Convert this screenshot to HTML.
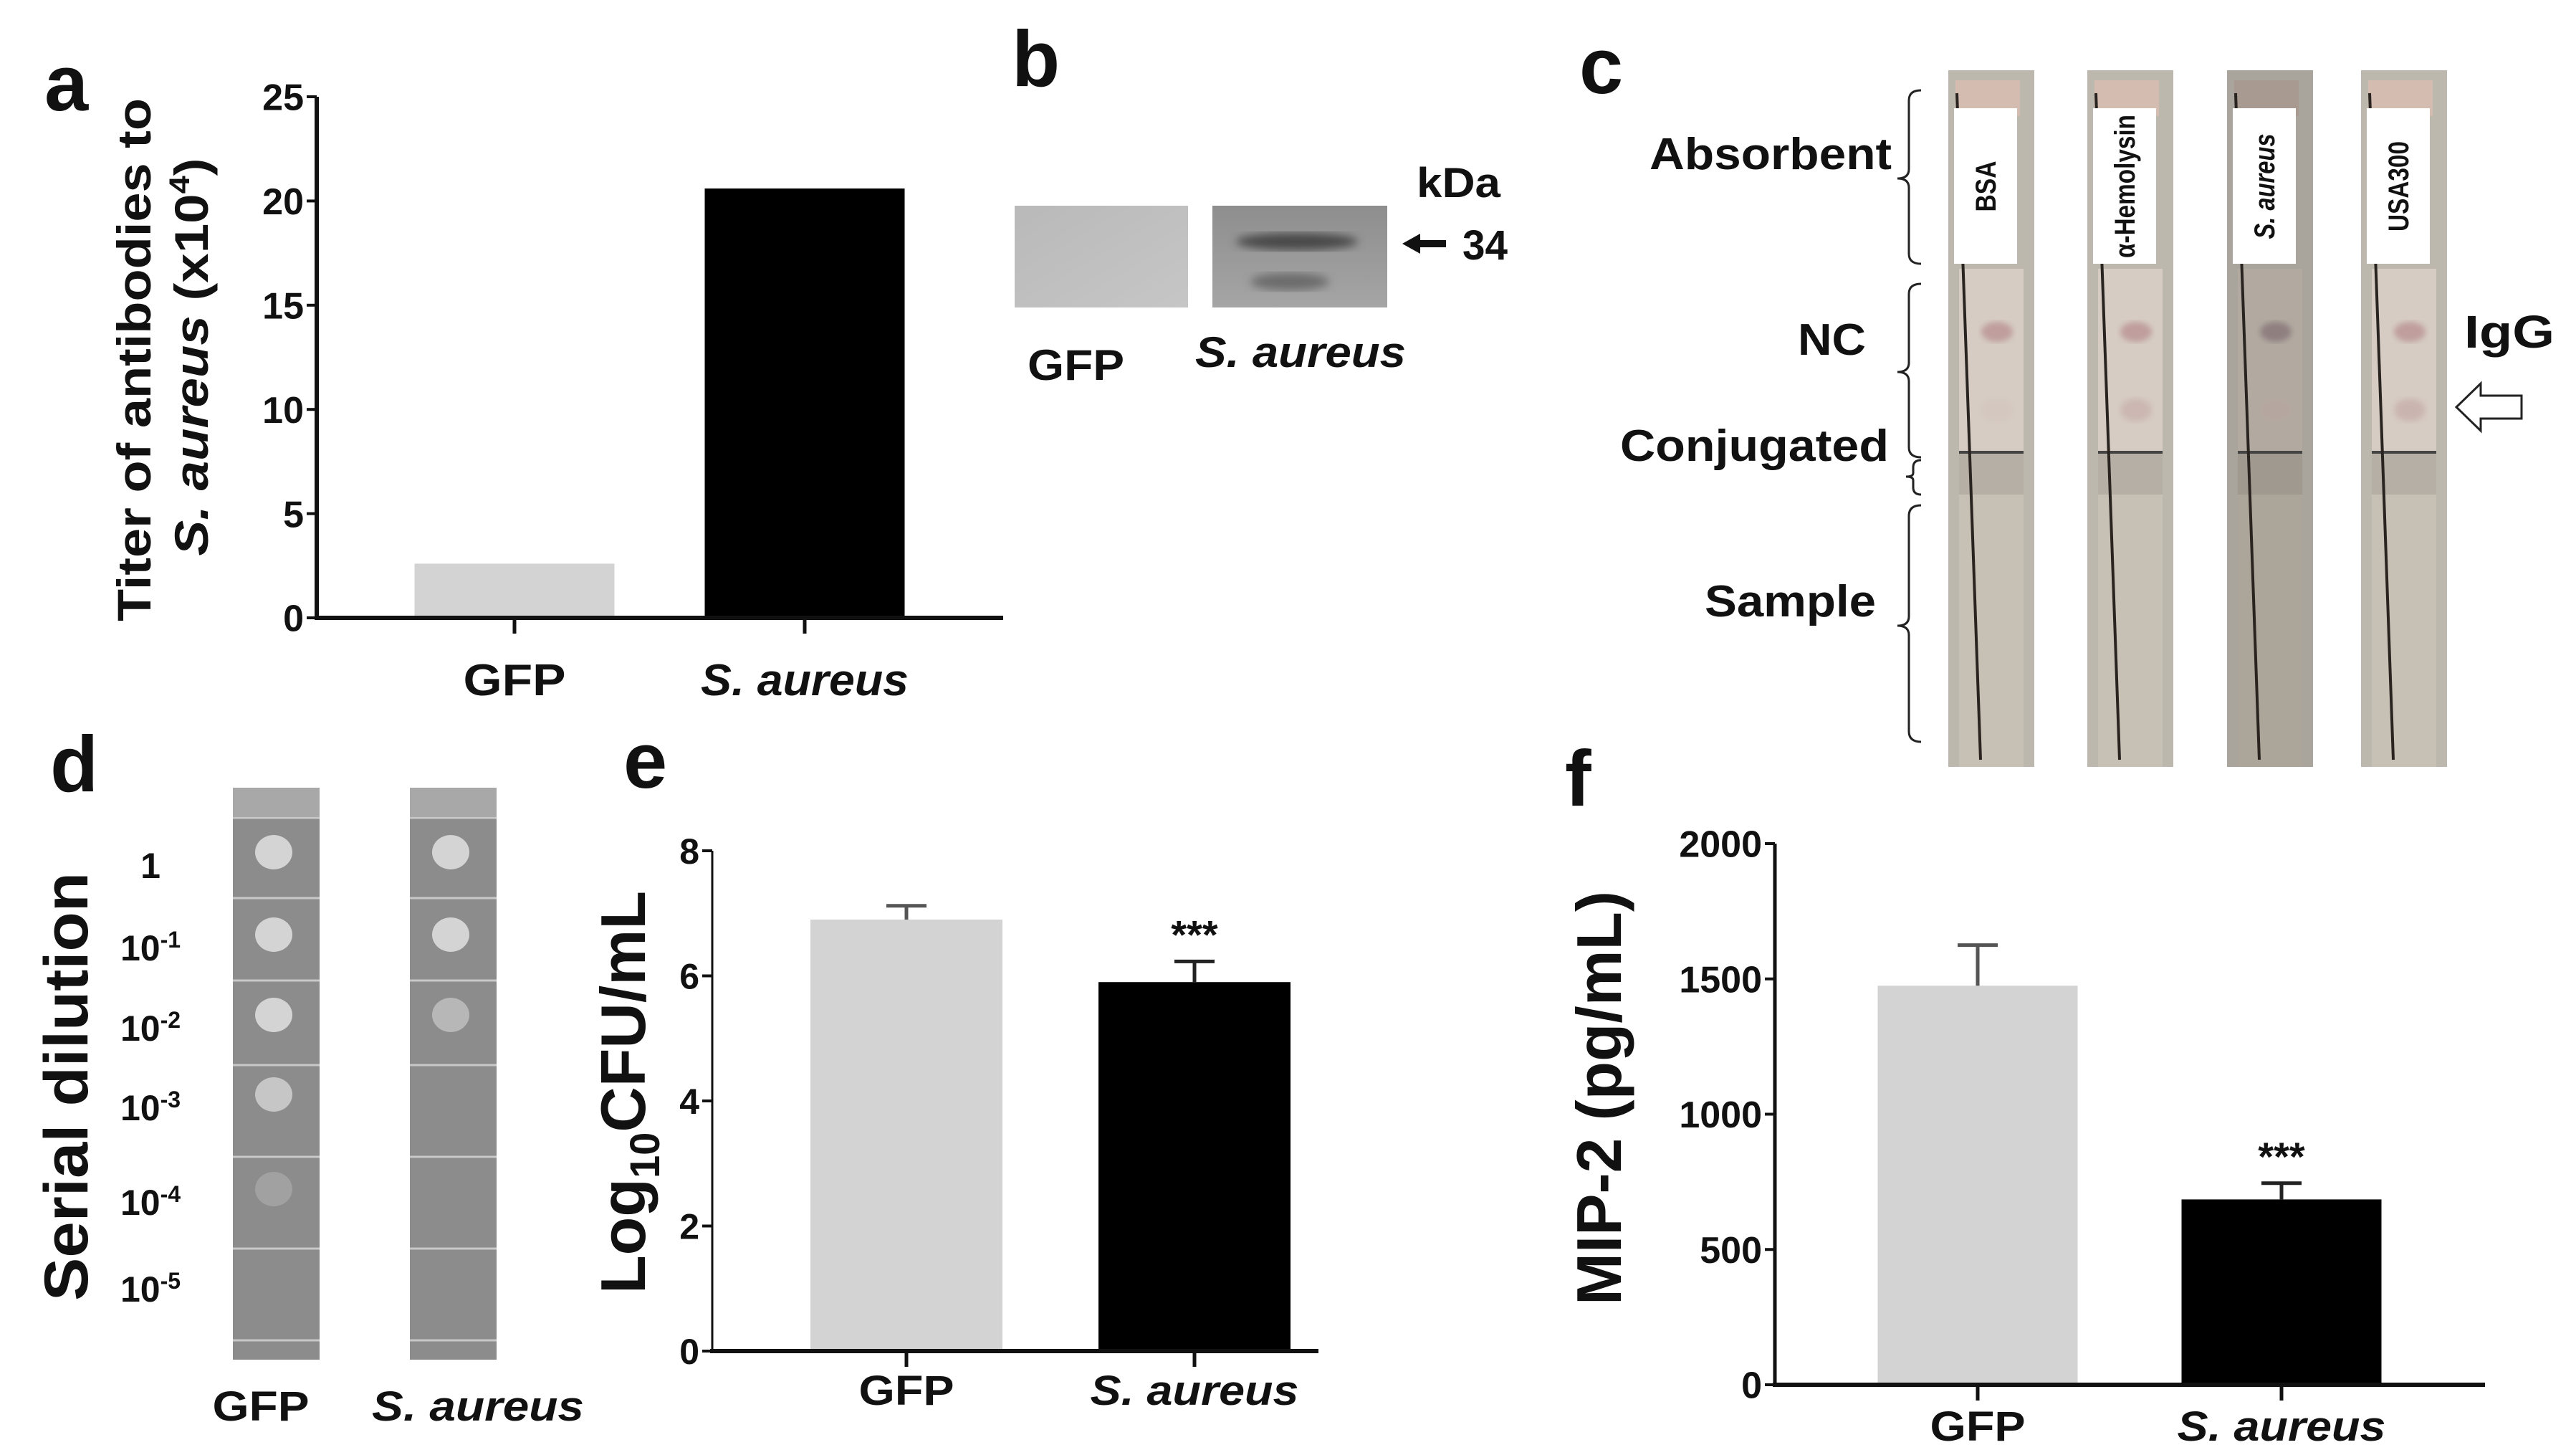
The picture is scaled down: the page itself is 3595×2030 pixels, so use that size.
<!DOCTYPE html>
<html><head><meta charset="utf-8">
<style>
html,body{margin:0;padding:0;background:#fff;}
svg{display:block;}
text{font-family:"Liberation Sans Narrow","Liberation Sans",sans-serif;font-weight:bold;fill:#111;}
</style></head>
<body>
<svg id="fig" width="3595" height="2030" viewBox="0 0 3595 2030" xmlns="http://www.w3.org/2000/svg">
<!-- Panel labels -->
<text x="62" y="154" font-size="110" style="font-family:'Liberation Sans',sans-serif">a</text>
<text x="1412" y="120" font-size="110" style="font-family:'Liberation Sans',sans-serif">b</text>
<text x="2204" y="130" font-size="110" style="font-family:'Liberation Sans',sans-serif">c</text>
<text x="70" y="1104" font-size="110" style="font-family:'Liberation Sans',sans-serif">d</text>
<text x="870" y="1099" font-size="110" style="font-family:'Liberation Sans',sans-serif">e</text>
<text x="2184" y="1124" font-size="110" style="font-family:'Liberation Sans',sans-serif">f</text>

<!-- Panel a axis titles -->
<g>
<text transform="translate(210,502) rotate(-90)" text-anchor="middle" font-size="66" textLength="730" lengthAdjust="spacingAndGlyphs" style="font-family:'Liberation Sans',sans-serif">Titer of antibodies to</text>
<text transform="translate(290,498) rotate(-90)" text-anchor="middle" font-size="66" textLength="555" lengthAdjust="spacingAndGlyphs" style="font-family:'Liberation Sans',sans-serif"><tspan font-style="italic">S. aureus</tspan> (x10<tspan font-size="40" dy="-26">4</tspan><tspan dy="26">)</tspan></text>
</g>

<!-- Panel b western blot -->
<g>
<defs>
<linearGradient id="blotA" x1="0" y1="0" x2="1" y2="1"><stop offset="0" stop-color="#b9b9b9"/><stop offset="1" stop-color="#c6c6c6"/></linearGradient>
<linearGradient id="blotB" x1="0" y1="0" x2="0" y2="1"><stop offset="0" stop-color="#8e8e8e"/><stop offset="1" stop-color="#a5a5a5"/></linearGradient>
<filter id="blur6"><feGaussianBlur stdDeviation="6"/></filter>
<filter id="blur3"><feGaussianBlur stdDeviation="4"/></filter>
</defs>
<rect x="1416" y="287" width="242" height="142" fill="url(#blotA)"/>
<rect x="1692" y="287" width="244" height="142" fill="url(#blotB)"/>
<ellipse cx="1810" cy="337" rx="85" ry="12" fill="#4a4a4a" filter="url(#blur6)"/>
<ellipse cx="1800" cy="393" rx="55" ry="12" fill="#6c6c6c" filter="url(#blur6)"/>
<text x="1977" y="275" font-size="58" textLength="117" lengthAdjust="spacingAndGlyphs">kDa</text>
<path d="M1957 340 L1982 326 L1982 335 L2018 335 L2018 345 L1982 345 L1982 354 Z" fill="#111"/>
<text x="2041" y="362" font-size="58" textLength="63" lengthAdjust="spacingAndGlyphs">34</text>
<text x="1434" y="530" font-size="60" textLength="135" lengthAdjust="spacingAndGlyphs">GFP</text>
<text x="1668" y="512" font-size="60" font-style="italic" textLength="294" lengthAdjust="spacingAndGlyphs">S. aureus</text>
</g>

<!-- Panel c lateral flow strips -->
<g id="panelC">
<text x="2640" y="236" text-anchor="end" font-size="62" textLength="338" lengthAdjust="spacingAndGlyphs">Absorbent</text>
<text x="2604" y="495" text-anchor="end" font-size="62" textLength="95" lengthAdjust="spacingAndGlyphs">NC</text>
<text x="2636" y="643" text-anchor="end" font-size="62" textLength="375" lengthAdjust="spacingAndGlyphs">Conjugated</text>
<text x="2618" y="860" text-anchor="end" font-size="62" textLength="239" lengthAdjust="spacingAndGlyphs">Sample</text>
<g fill="none" stroke="#222" stroke-width="3">
<path d="M2681 126 Q2664 126 2664 140 L2664 236 Q2664 249 2648 249 Q2664 249 2664 262 L2664 354 Q2664 368 2681 368"/>
<path d="M2681 396 Q2664 396 2664 410 L2664 506 Q2664 519 2648 519 Q2664 519 2664 532 L2664 624 Q2664 638 2681 638"/>
<path d="M2681 642 Q2670 642 2670 652 L2670 660 Q2670 665 2660 665 Q2670 665 2670 670 L2670 680 Q2670 690 2681 690"/>
<path d="M2681 705 Q2664 705 2664 720 L2664 860 Q2664 873 2648 873 Q2664 873 2664 886 L2664 1020 Q2664 1035 2681 1035"/>
</g>
<text x="3439" y="485" font-size="64" textLength="126" lengthAdjust="spacingAndGlyphs">IgG</text>
<path d="M3428 568 L3462 535 L3462 552 L3519 552 L3519 584 L3462 584 L3462 601 Z" fill="#fff" stroke="#222" stroke-width="3"/>
</g>

<!-- Panel d serial dilution -->
<g id="panelD">
<text transform="translate(122,1516) rotate(-90)" text-anchor="middle" font-size="86" textLength="598" lengthAdjust="spacingAndGlyphs" style="font-family:'Liberation Sans',sans-serif">Serial dilution</text>
<text x="364" y="1982" text-anchor="middle" font-size="58" textLength="135" lengthAdjust="spacingAndGlyphs">GFP</text>
<text x="667" y="1982" text-anchor="middle" font-size="58" font-style="italic" textLength="296" lengthAdjust="spacingAndGlyphs">S. aureus</text>
</g>

<!-- Panel e and f titles -->
<text transform="translate(900,1524) rotate(-90)" text-anchor="middle" font-size="88" textLength="562" lengthAdjust="spacingAndGlyphs" style="font-family:'Liberation Sans',sans-serif">Log<tspan font-size="58" dy="20">10</tspan><tspan dy="-20">CFU/mL</tspan></text>
<text transform="translate(2262,1532) rotate(-90)" text-anchor="middle" font-size="88" textLength="578" lengthAdjust="spacingAndGlyphs" style="font-family:'Liberation Sans',sans-serif">MIP-2 (pg/mL)</text>

<g id="charts"></g>
</svg>
<script>
// ===== Panel a data =====
const aCategories = ["GFP", "S. aureus"];
const aValues = [2.6, 20.6];
const aTicks = [0, 5, 10, 15, 20, 25];
// ===== Panel e data =====
const eCategories = ["GFP", "S. aureus"];
const eValues = [6.9, 5.9];
const eErrors = [0.22, 0.33];
const eTicks = [0, 2, 4, 6, 8];
const eSignif = ["", "***"];
// ===== Panel f data =====
const fCategories = ["GFP", "S. aureus"];
const fValues = [1475, 685];
const fErrors = [150, 60];
const fTicks = [0, 500, 1000, 1500, 2000];
const fSignif = ["", "***"];
// ===== Panel c data =====
const cStrips = ["BSA", "α-Hemolysin", "S. aureus", "USA300"];
const cTestLine = [0.1, 0.45, 0.25, 0.5];
// ===== Panel d data =====
const dDilutions = ["1", "10-1", "10-2", "10-3", "10-4", "10-5"];
const dGfpSpots = [1, 1, 1, 0.8, 0.3, 0];
const dSaSpots = [1, 1, 0.6, 0, 0, 0];

const NS = "http://www.w3.org/2000/svg";
const root = document.getElementById("charts");
function mk(tag, attrs, parent) {
  const el = document.createElementNS(NS, tag);
  for (const k in attrs) el.setAttribute(k, attrs[k]);
  (parent || root).appendChild(el);
  return el;
}

function barChart(cfg) {
  const g = mk("g", {});
  
  
  const y = v => cfg.y0 - (v - cfg.min) / (cfg.max - cfg.min) * (cfg.y0 - cfg.y1);
  const xCenter = i => cfg.cx[i];
  cfg.values.forEach((v, i) => {
    const r = mk("rect", {x: xCenter(i) - cfg.bw / 2, y: y(v), width: cfg.bw, height: y(cfg.min) - y(v), fill: cfg.colors[i]}, g);
    
    
    if (cfg.errors) {
      const e = mk("path", {d: `M${xCenter(i)} ${y(v)} L${xCenter(i)} ${y(v + cfg.errors[i])} M${xCenter(i) - 28} ${y(v + cfg.errors[i])} L${xCenter(i) + 28} ${y(v + cfg.errors[i])}`, stroke: i === 0 ? "#555" : "#222", "stroke-width": 5, fill: "none"}, g);
      
      
    }
    if (cfg.signif && cfg.signif[i]) {
      const s = mk("text", {x: xCenter(i), y: y(v + cfg.errors[i]) - 18, "text-anchor": "middle", "font-size": 56}, g);
      s.textContent = cfg.signif[i];
      
      
    }
    const t = mk("text", {x: xCenter(i), y: cfg.labelY, "text-anchor": "middle", "font-size": cfg.labelFs, "font-style": i === 1 ? "italic" : "normal", textLength: cfg.labelW[i], lengthAdjust: "spacingAndGlyphs"}, g);
    t.textContent = cfg.cats[i];
    
    
    const tk = mk("line", {x1: xCenter(i), x2: xCenter(i), y1: cfg.y0, y2: cfg.y0 + 22, stroke: "#111", "stroke-width": 5}, g);
    
    
  });
  const ya = mk("line", {x1: cfg.ax, x2: cfg.ax, y1: y(cfg.max), y2: y(cfg.min) + 3, stroke: "#111", "stroke-width": cfg.yw}, g);
  
  
  const xa = mk("line", {x1: cfg.ax - 3, x2: cfg.axEnd, y1: cfg.y0, y2: cfg.y0, stroke: "#111", "stroke-width": 6}, g);
  
  
  cfg.ticks.forEach(v => {
    const l = mk("line", {x1: cfg.ax - 14, x2: cfg.ax, y1: y(v), y2: y(v), stroke: "#111", "stroke-width": 4}, g);
    
    
    const t = mk("text", {x: cfg.ax - 18, y: y(v) + cfg.tickFs * 0.36, "text-anchor": "end", "font-size": cfg.tickFs}, g);
    t.textContent = v;
    
    
  });
}

barChart({name: "panel-a-chart", cats: aCategories, values: aValues, ticks: aTicks, min: 0, max: 25,
  y0: 862, y1: 135, ax: 442, axEnd: 1400, cx: [718, 1123], bw: 279, colors: ["#d3d3d3", "#000"],
  labelY: 970, labelFs: 62, labelW: [143, 290], tickFs: 52, yw: 6});
barChart({name: "panel-e-chart", cats: eCategories, values: eValues, errors: eErrors, signif: eSignif, ticks: eTicks, min: 0, max: 8,
  y0: 1885, y1: 1187, ax: 994, axEnd: 1840, cx: [1265, 1667], bw: 268, colors: ["#d3d3d3", "#000"],
  labelY: 1960, labelFs: 58, labelW: [133, 291], tickFs: 50, yw: 3});
barChart({name: "panel-f-chart", cats: fCategories, values: fValues, errors: fErrors, signif: fSignif, ticks: fTicks, min: 0, max: 2000,
  y0: 1932, y1: 1177, ax: 2477, axEnd: 3468, cx: [2760, 3184], bw: 279, colors: ["#d3d3d3", "#000"],
  labelY: 2010, labelFs: 58, labelW: [133, 291], tickFs: 52, yw: 5});

// ===== Panel c strips =====
const gC = document.getElementById("panelC");
const stripX = [2719, 2913, 3108, 3295];
const stripLabelLen = [71, 200, 147, 126];
cStrips.forEach((name, i) => {
  const x = stripX[i], w = 120;
  const g = mk("g", {}, gC);
  
  
  const dark = i === 2;
  mk("rect", {x: x, y: 98, width: w, height: 972, fill: dark ? "#aaa59c" : "#bdb8ae"}, g);
  mk("rect", {x: x + 10, y: 112, width: w - 30, height: 50, fill: dark ? "#a89a90" : "#d4bcb0"}, g);
  mk("rect", {x: x + 15, y: 375, width: w - 30, height: 255, fill: dark ? "#b2aaa1" : "#d6ccc4"}, g);
  mk("rect", {x: x + 15, y: 630, width: w - 30, height: 440, fill: dark ? "#aba59a" : "#c6c0b5"}, g);
  mk("rect", {x: x + 15, y: 630, width: w - 30, height: 60, fill: dark ? "#9f998f" : "#b5afa5"}, g);
  mk("line", {x1: x + 15, x2: x + w - 15, y1: 631, y2: 631, stroke: "#444", "stroke-width": 4}, g);
  mk("line", {x1: x + 12, y1: 130, x2: x + 45, y2: 1060, stroke: "#2a2420", "stroke-width": 4}, g);
  const lab = mk("rect", {x: x + 8, y: 151, width: 88, height: 217, fill: "#fff"}, g);
  
  
  const t = mk("text", {transform: `translate(${x + 66},${260}) rotate(-90)`, "text-anchor": "middle", "font-size": 40, "font-style": i === 2 ? "italic" : "normal", textLength: stripLabelLen[i], lengthAdjust: "spacingAndGlyphs"}, g);
  t.textContent = name;
  
  
  const c = mk("ellipse", {cx: x + 68, cy: 463, rx: 22, ry: 14, fill: dark ? "#8f8080" : "#c09e9e", filter: "url(#blur3)"}, g);
  
  
  const tl = mk("ellipse", {cx: x + 68, cy: 572, rx: 22, ry: 16, fill: "#c09e9e", opacity: cTestLine[i], filter: "url(#blur3)"}, g);
  
  
});

// ===== Panel d plates =====
const gD = document.getElementById("panelD");
const rowY = [1207, 1322, 1434, 1545, 1677, 1798];
const sepY = [1141, 1253, 1368, 1486, 1614, 1742, 1870];
dDilutions.forEach((d, i) => {
  const t = mk("text", {x: 210, y: rowY[i] + 18, "text-anchor": "middle", "font-size": 50}, gD);
  if (i === 0) { t.textContent = "1"; }
  else {
    t.textContent = "10";
    const s = mk("tspan", {"font-size": 32, dy: -18}, t);
    s.textContent = d.slice(2);
  }
  
  
});
[[325, dGfpSpots, "gfp-plate-strip"], [572, dSaSpots, "s-aureus-plate-strip"]].forEach(([x, spots, nm]) => {
  const g = mk("g", {}, gD);
  
  
  mk("rect", {x: x, y: 1099, width: 121, height: 798, fill: "#8c8c8c"}, g);
  mk("rect", {x: x, y: 1099, width: 121, height: 40, fill: "#a8a8a8"}, g);
  sepY.forEach(yy => mk("line", {x1: x, x2: x + 121, y1: yy, y2: yy, stroke: "#c8c8c8", "stroke-width": 3}, g));
  spots.forEach((s, i) => {
    if (s > 0) {
      const sp = mk("ellipse", {cx: x + 57, cy: rowY[i] - 18, rx: 26, ry: 24, fill: "#d4d4d4", opacity: s}, g);
      
      
    }
  });
});
</script>
</body></html>
